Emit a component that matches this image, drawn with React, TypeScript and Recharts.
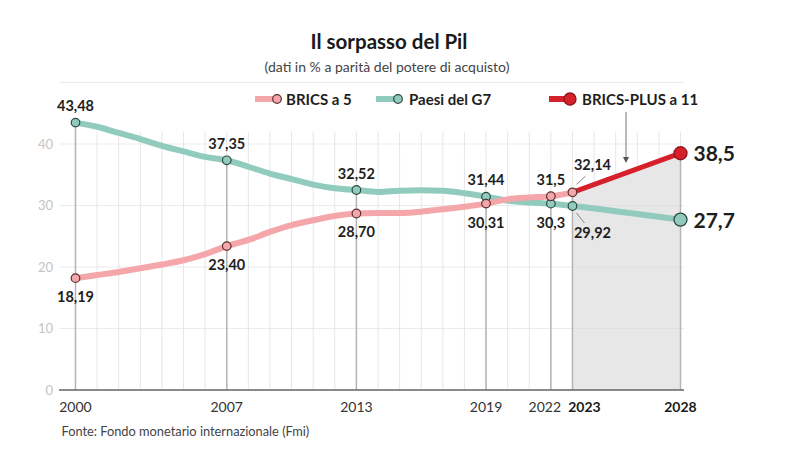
import React from 'react';
import {
  ComposedChart,
  Line,
  Area,
  XAxis,
  YAxis,
  CartesianGrid,
  ReferenceLine,
} from 'recharts';

const FONT = 'Lato, "Open Sans", sans-serif';

const YEARS = [
  2000, 2001, 2002, 2003, 2004, 2005, 2006, 2007, 2008, 2009,
  2010, 2011, 2012, 2013, 2014, 2015, 2016, 2017, 2018, 2019,
  2020, 2021, 2022, 2023, 2024, 2025, 2026, 2027, 2028,
];

// Paesi del G7
const G7 = [
  43.48, 42.8, 41.8, 40.8, 39.7, 38.8, 37.9, 37.35, 36.3, 35.2,
  34.3, 33.4, 32.8, 32.52, 32.2, 32.4, 32.5, 32.4, 32.0, 31.44,
  30.8, 30.5, 30.3, 29.92, null, null, null, null, 27.7,
];

// BRICS a 5
const BRICS5 = [
  18.19, 18.7, 19.2, 19.8, 20.4, 21.1, 22.1, 23.4, 24.4, 25.7,
  26.8, 27.6, 28.3, 28.7, 28.8, 28.8, 29.0, 29.4, 29.8, 30.31,
  31.0, 31.3, 31.5, 32.14, null, null, null, null, null,
];

// BRICS-PLUS a 11
const BRICS11 = [
  null, null, null, null, null, null, null, null, null, null,
  null, null, null, null, null, null, null, null, null, null,
  null, null, null, 32.14, null, null, null, null, 38.5,
];

const LABEL_YEARS = [2000, 2007, 2013, 2019, 2022, 2023, 2028];
const Y_TICKS = [0, 10, 20, 30, 40];

const G7_LABELS: Record<number, string> = {
  2000: '43,48', 2007: '37,35', 2013: '32,52', 2019: '31,44',
  2022: '30,3', 2023: '29,92', 2028: '27,7',
};
const BRICS5_LABELS: Record<number, string> = {
  2000: '18,19', 2007: '23,40', 2013: '28,70', 2019: '30,31',
  2022: '31,5', 2023: '32,14',
};
const BRICS11_LABELS: Record<number, string> = { 2028: '38,5' };

const data = YEARS.map((year, i) => ({
  year,
  g7: G7[i],
  brics5: BRICS5[i],
  brics11: BRICS11[i],
}));

const PINK = '#f4a6aa';
const TEAL = '#90cbbd';
const RED = '#d6212b';

type Place = 'above' | 'below' | 'upRight' | 'downRight' | 'big';

const G7_PLACE: Record<number, Place> = { 2022: 'below', 2023: 'downRight', 2028: 'big' };
const BRICS5_PLACE: Record<number, Place> = { 2022: 'above', 2023: 'upRight' };

function makeDot(
  name: string,
  labels: Record<number, string>,
  place: Record<number, Place>,
  fallback: Place,
  fill: string,
  stroke: string,
) {
  return (props: any) => {
    const { cx, cy, payload, index } = props;
    const text = labels[payload?.year];
    if (text === undefined || cx == null || cy == null) {
      return <g key={`${name}-${index}`} />;
    }
    const p = place[payload.year] ?? fallback;
    const labelStyle = { fontFamily: FONT, fontWeight: 700, fill: '#1e1e1e' } as const;
    if (p === 'big') {
      return (
        <g key={`${name}-${index}`}>
          <circle cx={cx} cy={cy} r={6.5} fill={fill} stroke={stroke} strokeWidth={1.3} />
          <text x={cx + 13} y={cy + 8} fontSize={21} {...labelStyle}>{text}</text>
        </g>
      );
    }
    let label: React.ReactNode = null;
    if (p === 'above') {
      label = <text x={cx} y={cy - 11.5} textAnchor="middle" fontSize={14.5} {...labelStyle}>{text}</text>;
    } else if (p === 'below') {
      label = <text x={cx} y={cy + 24} textAnchor="middle" fontSize={14.5} {...labelStyle}>{text}</text>;
    } else if (p === 'upRight') {
      label = (
        <g>
          <line x1={cx + 4} y1={cy - 8} x2={cx + 13} y2={cy - 16} stroke="#888" strokeWidth={1} />
          <text x={cx + 20} y={cy - 22} textAnchor="middle" fontSize={14.5} {...labelStyle}>{text}</text>
        </g>
      );
    } else if (p === 'downRight') {
      label = (
        <g>
          <line x1={cx + 4} y1={cy + 7} x2={cx + 12} y2={cy + 17} stroke="#888" strokeWidth={1} />
          <text x={cx + 20} y={cy + 32} textAnchor="middle" fontSize={14.5} {...labelStyle}>{text}</text>
        </g>
      );
    }
    return (
      <g key={`${name}-${index}`}>
        <circle cx={cx} cy={cy} r={4.3} fill={fill} stroke={stroke} strokeWidth={1.2} />
        {label}
      </g>
    );
  };
}

const g7Dot = makeDot('g7', G7_LABELS, G7_PLACE, 'above', TEAL, '#2e4a44');
const brics5Dot = makeDot('b5', BRICS5_LABELS, BRICS5_PLACE, 'below', PINK, '#5a3030');
const brics11Dot = makeDot('b11', BRICS11_LABELS, {}, 'big', RED, '#8f1519');

function XTick(props: any) {
  const { x, y, payload } = props;
  const yr = payload.value;
  const bold = yr >= 2023;
  const dx = yr === 2022 ? -6 : yr === 2023 ? 12 : 0;
  return (
    <text
      x={x + dx}
      y={y + 22}
      textAnchor="middle"
      fontSize={14}
      fontFamily={FONT}
      fontWeight={bold ? 700 : 400}
      fill={bold ? '#1a1a1a' : '#333'}
    >
      {yr}
    </text>
  );
}

// top of each highlighted year's vertical line = highest value in that year
const topValue = (yr: number) => {
  const i = YEARS.indexOf(yr);
  return Math.max(...[G7[i], BRICS5[i], BRICS11[i]].filter((v): v is number => v != null));
};

export default function App() {
  return (
    <div style={{ position: 'absolute', left: 0, top: 0, width: 800, height: 460, background: '#fff' }}>
      <ComposedChart
        width={800}
        height={460}
        data={data}
        margin={{ top: 82.5, right: 116, bottom: 0, left: 19 }}
        style={{ fontFamily: FONT }}
      >
        <CartesianGrid vertical={false} stroke="#ebebeb" strokeWidth={1} />
        {YEARS.map((yr) => (
          <ReferenceLine
            key={`v-${yr}`}
            segment={[{ x: yr, y: 0 }, { x: yr, y: 42 }]}
            stroke="#e6e6e6"
            strokeWidth={1}
          />
        ))}
        <XAxis
          dataKey="year"
          type="number"
          domain={[2000, 2028]}
          ticks={LABEL_YEARS}
          interval={0}
          padding={{ left: 16.5, right: 3.5 }}
          height={70}
          axisLine={{ stroke: '#666', strokeWidth: 1.5 }}
          tickLine={false}
          tickSize={0}
          tickMargin={0}
          tick={<XTick />}
        />
        <YAxis
          type="number"
          domain={[0, 50]}
          ticks={Y_TICKS}
          width={40}
          axisLine={false}
          tickLine={false}
          tickSize={0}
          tickMargin={6}
          tick={{ fill: '#c4c4c4', fontSize: 13, fontFamily: FONT }}
        />
        <Area
          dataKey="brics11"
          type="linear"
          stroke="none"
          fill="#d6d4d5"
          fillOpacity={0.55}
          connectNulls
          isAnimationActive={false}
          dot={false}
          activeDot={false}
        />
        {LABEL_YEARS.map((yr) => (
          <ReferenceLine
            key={`d-${yr}`}
            segment={[{ x: yr, y: 0 }, { x: yr, y: topValue(yr) }]}
            stroke="#b4b4b4"
            strokeWidth={1.5}
          />
        ))}
        <Line
          dataKey="brics11"
          type="linear"
          stroke={RED}
          strokeWidth={5}
          strokeLinecap="round"
          connectNulls
          dot={brics11Dot}
          activeDot={false}
          isAnimationActive={false}
        />
        <Line
          dataKey="g7"
          type="monotone"
          stroke={TEAL}
          strokeWidth={6}
          strokeLinecap="round"
          connectNulls
          dot={g7Dot}
          activeDot={false}
          isAnimationActive={false}
        />
        <Line
          dataKey="brics5"
          type="monotone"
          stroke={PINK}
          strokeWidth={6}
          strokeLinecap="round"
          dot={brics5Dot}
          activeDot={false}
          isAnimationActive={false}
        />
      </ComposedChart>

      <svg
        width={800}
        height={460}
        style={{ position: 'absolute', left: 0, top: 0, pointerEvents: 'none', fontFamily: FONT }}
      >
        <text x={389} y={49} textAnchor="middle" fontSize={20.5} fontWeight={700} fill="#1a1a1a">
          Il sorpasso del Pil
        </text>
        <text x={387} y={72} textAnchor="middle" fontSize={14} fill="#444">
          (dati in % a parità del potere di acquisto)
        </text>

        {/* legend */}
        <line x1={255} y1={99} x2={276} y2={99} stroke={PINK} strokeWidth={6} />
        <circle cx={277} cy={99} r={4.3} fill={PINK} stroke="#5a3030" strokeWidth={1.2} />
        <text x={286} y={104.5} fontSize={15} fontWeight={700} fill="#1e1e1e">BRICS a 5</text>

        <line x1={376} y1={99} x2={397} y2={99} stroke={TEAL} strokeWidth={6} />
        <circle cx={398} cy={99} r={4.3} fill={TEAL} stroke="#2e4a44" strokeWidth={1.2} />
        <text x={409} y={104.5} fontSize={15} fontWeight={700} fill="#1e1e1e">Paesi del G7</text>

        <line x1={549} y1={99} x2={569} y2={99} stroke={RED} strokeWidth={6} />
        <circle cx={570} cy={99} r={6} fill={RED} stroke="#8f1519" strokeWidth={1.3} />
        <text x={582} y={104.5} fontSize={15} fontWeight={700} fill="#1e1e1e">BRICS-PLUS a 11</text>

        {/* arrow from legend */}
        <line x1={626} y1={112} x2={626} y2={158} stroke="#777" strokeWidth={1} />
        <polygon points="623,157 629,157 626,163" fill="#555" />

        <text x={61.5} y={436} fontSize={12.8} fill="#444">
          Fonte: Fondo monetario internazionale (Fmi)
        </text>
      </svg>
    </div>
  );
}
